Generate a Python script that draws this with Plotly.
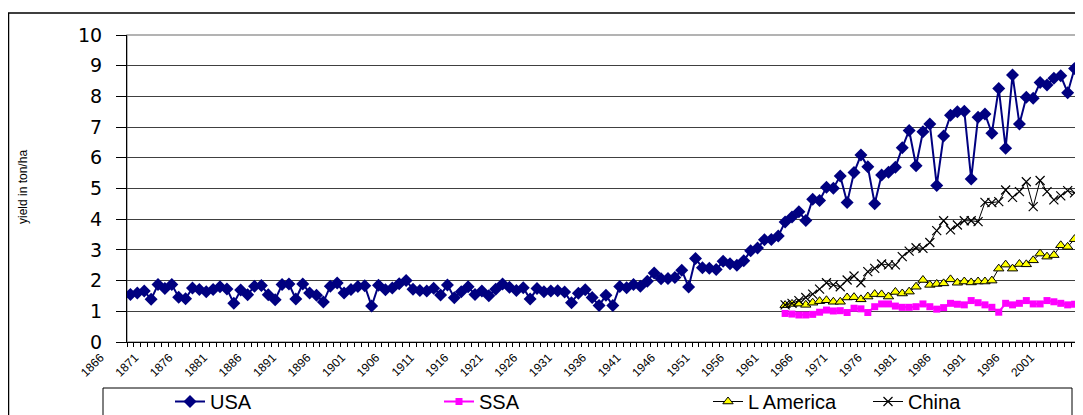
import plotly.graph_objects as go

# ---------------- data ----------------
usa_years = list(range(1866, 2004))
usa = [1.55, 1.60, 1.66, 1.39, 1.87, 1.74, 1.87, 1.46, 1.41, 1.76,
       1.71, 1.64, 1.71, 1.80, 1.73, 1.26, 1.69, 1.54, 1.82, 1.84,
       1.54, 1.38, 1.87, 1.89, 1.40, 1.89, 1.60, 1.52, 1.30, 1.82,
       1.92, 1.60, 1.71, 1.81, 1.83, 1.17, 1.85, 1.70, 1.76, 1.90,
       2.00, 1.72, 1.68, 1.66, 1.75, 1.53, 1.86, 1.44, 1.64, 1.80,
       1.55, 1.66, 1.51, 1.72, 1.89, 1.78, 1.68, 1.77, 1.40, 1.74,
       1.64, 1.66, 1.67, 1.63, 1.28, 1.59, 1.70, 1.45, 1.19, 1.52,
       1.19, 1.81, 1.77, 1.87, 1.82, 1.98, 2.25, 2.06, 2.07, 2.10,
       2.34, 1.79, 2.72, 2.42, 2.40, 2.36, 2.63, 2.55, 2.50, 2.65,
       2.97, 3.06, 3.33, 3.34, 3.45, 3.91, 4.07, 4.24, 3.96, 4.65,
       4.61, 5.04, 5.01, 5.41, 4.54, 5.52, 6.09, 5.71, 4.50, 5.44,
       5.53, 5.69, 6.33, 6.89, 5.74, 6.85, 7.10, 5.10, 6.71, 7.39,
       7.50, 7.52, 5.31, 7.32, 7.43, 6.80, 8.26, 6.31, 8.70, 7.10,
       7.97, 7.94, 8.45, 8.37, 8.59, 8.67, 8.12, 8.91]

fao_years = list(range(1961, 2004))
ssa = [0.93, 0.91, 0.88, 0.88, 0.90, 0.97, 1.04, 1.01, 1.02, 0.96,
       1.10, 1.08, 0.96, 1.15, 1.24, 1.24, 1.17, 1.13, 1.13, 1.15,
       1.24, 1.15, 1.07, 1.12, 1.26, 1.23, 1.21, 1.35, 1.28, 1.21,
       1.13, 0.97, 1.26, 1.21, 1.26, 1.35, 1.24, 1.24, 1.35, 1.31,
       1.26, 1.21, 1.23]
lamerica = [1.20, 1.24, 1.25, 1.21, 1.28, 1.33, 1.36, 1.31, 1.31, 1.45,
            1.46, 1.39, 1.48, 1.56, 1.55, 1.48, 1.63, 1.58, 1.64, 1.80,
            2.02, 1.86, 1.89, 1.91, 2.04, 1.93, 1.97, 1.94, 1.97, 1.97,
            2.00, 2.39, 2.52, 2.39, 2.54, 2.53, 2.66, 2.88, 2.78, 2.83,
            3.15, 3.10, 3.35]
china = [1.21, 1.26, 1.35, 1.45, 1.56, 1.72, 1.93, 1.86, 1.80, 2.02,
         2.15, 1.93, 2.29, 2.40, 2.54, 2.51, 2.51, 2.78, 2.96, 3.07,
         3.05, 3.24, 3.63, 3.95, 3.65, 3.81, 3.95, 3.95, 3.92, 4.55,
         4.54, 4.57, 4.95, 4.71, 4.90, 5.22, 4.41, 5.26, 4.90, 4.63,
         4.76, 4.93, 4.86]

label_years = list(range(1866, 2002, 5))
label_text = [str(y) for y in label_years]
y_ticks = list(range(0, 11))
y_title = "yield in ton/ha"

# ---------------- figure ----------------
# the page body has an 8px margin, so the figure is sized to fill the
# remaining window area exactly
OFF = 8
W, H = 1083 - OFF, 415 - OFF
ML, MR, MT, MB = 127 - OFF, 5, 35 - OFF, 73
PW, PH = W - ML - MR, H - MT - MB


def px(xw):
    return (xw - OFF - ML) / PW


def py(yw):
    return (H - MB - (yw - OFF)) / PH


fig = go.Figure()
fig.add_trace(go.Scatter(
    x=usa_years, y=usa, name="USA", mode="lines+markers",
    line=dict(color="#000080", width=2),
    marker=dict(symbol="diamond", size=10, color="#000080"),
    legend="legend"))
fig.add_trace(go.Scatter(
    x=fao_years, y=ssa, name="SSA", mode="lines+markers",
    line=dict(color="#FF00FF", width=2),
    marker=dict(symbol="square", size=7, color="#FF00FF"),
    legend="legend"))
fig.add_trace(go.Scatter(
    x=fao_years, y=lamerica, name="L America", mode="lines+markers",
    line=dict(color="black", width=1),
    marker=dict(symbol="triangle-up", size=9, color="#FFFF00",
                line=dict(color="black", width=1)),
    legend="legend"))
fig.add_trace(go.Scatter(
    x=fao_years, y=china, name="China", mode="lines+markers",
    line=dict(color="black", width=1),
    marker=dict(symbol="x-thin", size=9, color="black",
                line=dict(color="black", width=1.2)),
    legend="legend2"))

fig.update_layout(
    width=W, height=H,
    margin=dict(l=ML, r=MR, t=MT, b=MB, autoexpand=False),
    plot_bgcolor="white", paper_bgcolor="white",
    font=dict(family="Liberation Sans, Arial, sans-serif", color="black"),
    xaxis=dict(
        range=[1865.5, 2003.5],
        tickmode="array", tickvals=label_years, ticktext=label_text,
        tickangle=-45, ticks="", showgrid=False, zeroline=False,
        showline=True, linecolor="black", linewidth=1,
        tickfont=dict(size=12, color="black"), ticklabelshift=-30,
        ticklabelstandoff=3, automargin=False,
        minor=dict(ticks="outside", ticklen=4, tickcolor="black",
                   tickmode="array",
                   tickvals=[y - 0.5 for y in usa_years] + [2003.5],
                   showgrid=False),
    ),
    yaxis=dict(
        range=[0, 10], tickmode="array", tickvals=y_ticks,
        ticks="outside", ticklen=10, tickcolor="black",
        showline=True, linecolor="black", linewidth=1,
        showgrid=True, gridcolor="#404040", gridwidth=1,
        zeroline=False, tickfont=dict(size=19, color="black",
                                      family="DejaVu Sans, sans-serif"),
        ticklabelstandoff=10, automargin=False,
    ),
    legend=dict(orientation="h", x=px(170), xanchor="left",
                y=py(382), yanchor="top",
                entrywidth=224, entrywidthmode="pixels",
                bgcolor="rgba(0,0,0,0)", borderwidth=0,
                font=dict(size=20)),
    legend2=dict(orientation="h", x=px(868), xanchor="left",
                 y=py(382), yanchor="top",
                 bgcolor="rgba(0,0,0,0)", borderwidth=0,
                 font=dict(size=20)),
    shapes=[
        # plot area border (grey)
        dict(type="rect", xref="paper", yref="paper", x0=0, x1=1, y0=0, y1=1,
             line=dict(color="#9a9a9a", width=1.5), layer="below"),
        # legend box
        dict(type="rect", xref="paper", yref="paper",
             x0=px(103), x1=px(1072), y0=py(425), y1=py(388),
             line=dict(color="black", width=1), fillcolor="rgba(0,0,0,0)"),
        # outer chart frame
        dict(type="rect", xref="paper", yref="paper",
             x0=px(8.5), x1=px(1095), y0=py(440), y1=py(13),
             line=dict(color="black", width=1.5), fillcolor="rgba(0,0,0,0)"),
    ],
    annotations=[
        dict(text=y_title, textangle=-90, xref="paper", yref="paper",
             x=px(23), y=py(187), xanchor="center", yanchor="middle",
             showarrow=False, font=dict(size=12)),
    ],
)

fig.write_html("out.html")
